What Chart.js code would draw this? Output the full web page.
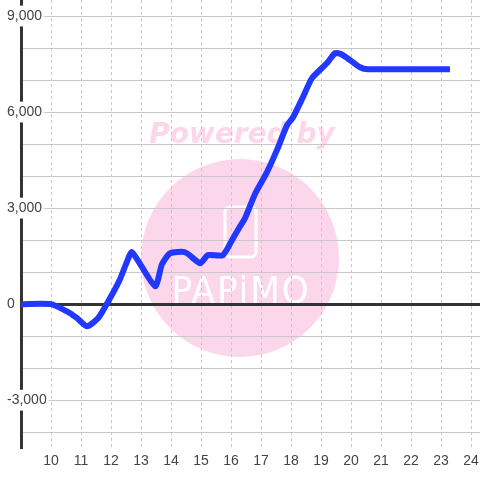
<!DOCTYPE html>
<html>
<head>
<meta charset="utf-8">
<script src="https://cdn.jsdelivr.net/npm/chart.js@4/dist/chart.umd.min.js"></script>
<style>
  body { margin: 0; background: #fff; }
</style>
</head>
<body>
<canvas id="chart" width="480" height="480"></canvas>
<script>
// hour of day -> running balance
const hours = [9, 10, 10.63, 10.87, 11.2, 11.57, 11.97, 12.3, 12.5, 12.7, 13.47, 13.7, 13.97, 14.47, 14.97, 15.23, 15.73, 16.07, 16.27, 16.47, 16.8, 17.2, 17.53, 17.87, 18.07, 18.4, 18.7, 19.2, 19.47, 19.67, 19.87, 20.3, 20.57, 23.3]
const balance = [0, 0, -280, -440, -690, -440, 190, 780, 1250, 1620, 560, 1250, 1590, 1620, 1280, 1530, 1530, 2060, 2380, 2690, 3440, 4125, 4810, 5590, 5840, 6470, 7060, 7530, 7840, 7810, 7690, 7400, 7340, 7340]

const xTicks = [9, 10, 11, 12, 13, 14, 15, 16, 17, 18, 19, 20, 21, 22, 23, 24]
const yTicks = [-4000, -3000, -2000, -1000, 0, 1000, 2000, 3000, 4000, 5000, 6000, 7000, 8000, 9000]
const yLabels = [-3000, 0, 3000, 6000, 9000]

Chart.defaults.font.family = '"Liberation Sans", Arial, sans-serif'
Chart.defaults.font.size = 14
Chart.defaults.color = '#444'

// pink "Powered by PAPiMO" stamp behind the grid
const watermark = {
  id: 'watermark',
  beforeDraw (chart) {
    const { ctx } = chart
    const cx = chart.width / 2
    const cy = 258
    ctx.save()
    ctx.fillStyle = '#fcd6ea'
    ctx.beginPath()
    ctx.arc(cx, cy, 99, 0, Math.PI * 2)
    ctx.fill()

    ctx.font = 'italic bold 28px "DejaVu Sans"'
    ctx.textAlign = 'center'
    ctx.textBaseline = 'alphabetic'
    ctx.fillText('Powered by', cx + 2, 143)

    // phone icon
    ctx.strokeStyle = '#fff'
    ctx.lineWidth = 3
    ctx.beginPath()
    ctx.roundRect(cx - 15, cy - 51, 31, 50, 5)
    ctx.stroke()

    ctx.fillStyle = '#fff'
    ctx.font = '38px "DejaVu Sans Condensed"'
    ctx.letterSpacing = '2px'
    ctx.fillText('PAPiMO', cx + 1, cy + 45)
    ctx.restore()
  }
}

new Chart(document.getElementById('chart'), {
  type: 'line',
  data: {
    datasets: [{
      data: hours.map((h, i) => ({ x: h, y: balance[i] })),
      borderColor: '#2338ff',
      borderWidth: 6,
      borderJoinStyle: 'round',
      tension: 0.2,
      pointRadius: 0,
      fill: false
    }]
  },
  options: {
    responsive: false,
    animation: false,
    layout: { padding: { left: 0, right: 0, top: 0, bottom: 5 } },
    plugins: {
      legend: { display: false },
      tooltip: { enabled: false }
    },
    scales: {
      x: {
        type: 'linear',
        min: 9,
        max: 24.3,
        afterBuildTicks: s => { s.ticks = xTicks.map(v => ({ value: v })) },
        afterFit: s => { s.paddingLeft = 0; s.paddingRight = 0 },
        grid: { color: '#c8c8c8', lineWidth: 1, drawTicks: false },
        border: { display: false, dash: [3, 3] },
        ticks: {
          padding: 5,
          maxRotation: 0,
          autoSkip: false,
          callback: v => v === 9 ? '' : String(v)
        }
      },
      y: {
        min: -4500,
        max: 9500,
        afterBuildTicks: s => { s.ticks = yTicks.map(v => ({ value: v })) },
        afterFit: s => { s.width = 21; s.paddingTop = 0; s.paddingBottom = 0 },
        grid: {
          color: c => c.tick && c.tick.value === 0 ? '#333' : '#c8c8c8',
          lineWidth: c => c.tick && c.tick.value === 0 ? 3 : 1,
          drawTicks: false
        },
        border: { color: '#333', width: 3 },
        ticks: {
          mirror: true,
          padding: -14,
          crossAlign: 'near',
          autoSkip: false,
          showLabelBackdrop: true,
          backdropColor: '#fff',
          backdropPadding: 2,
          callback: v => yLabels.includes(v) ? v.toLocaleString('en-US') : ''
        }
      }
    }
  },
  plugins: [watermark]
})
</script>
</body>
</html>
